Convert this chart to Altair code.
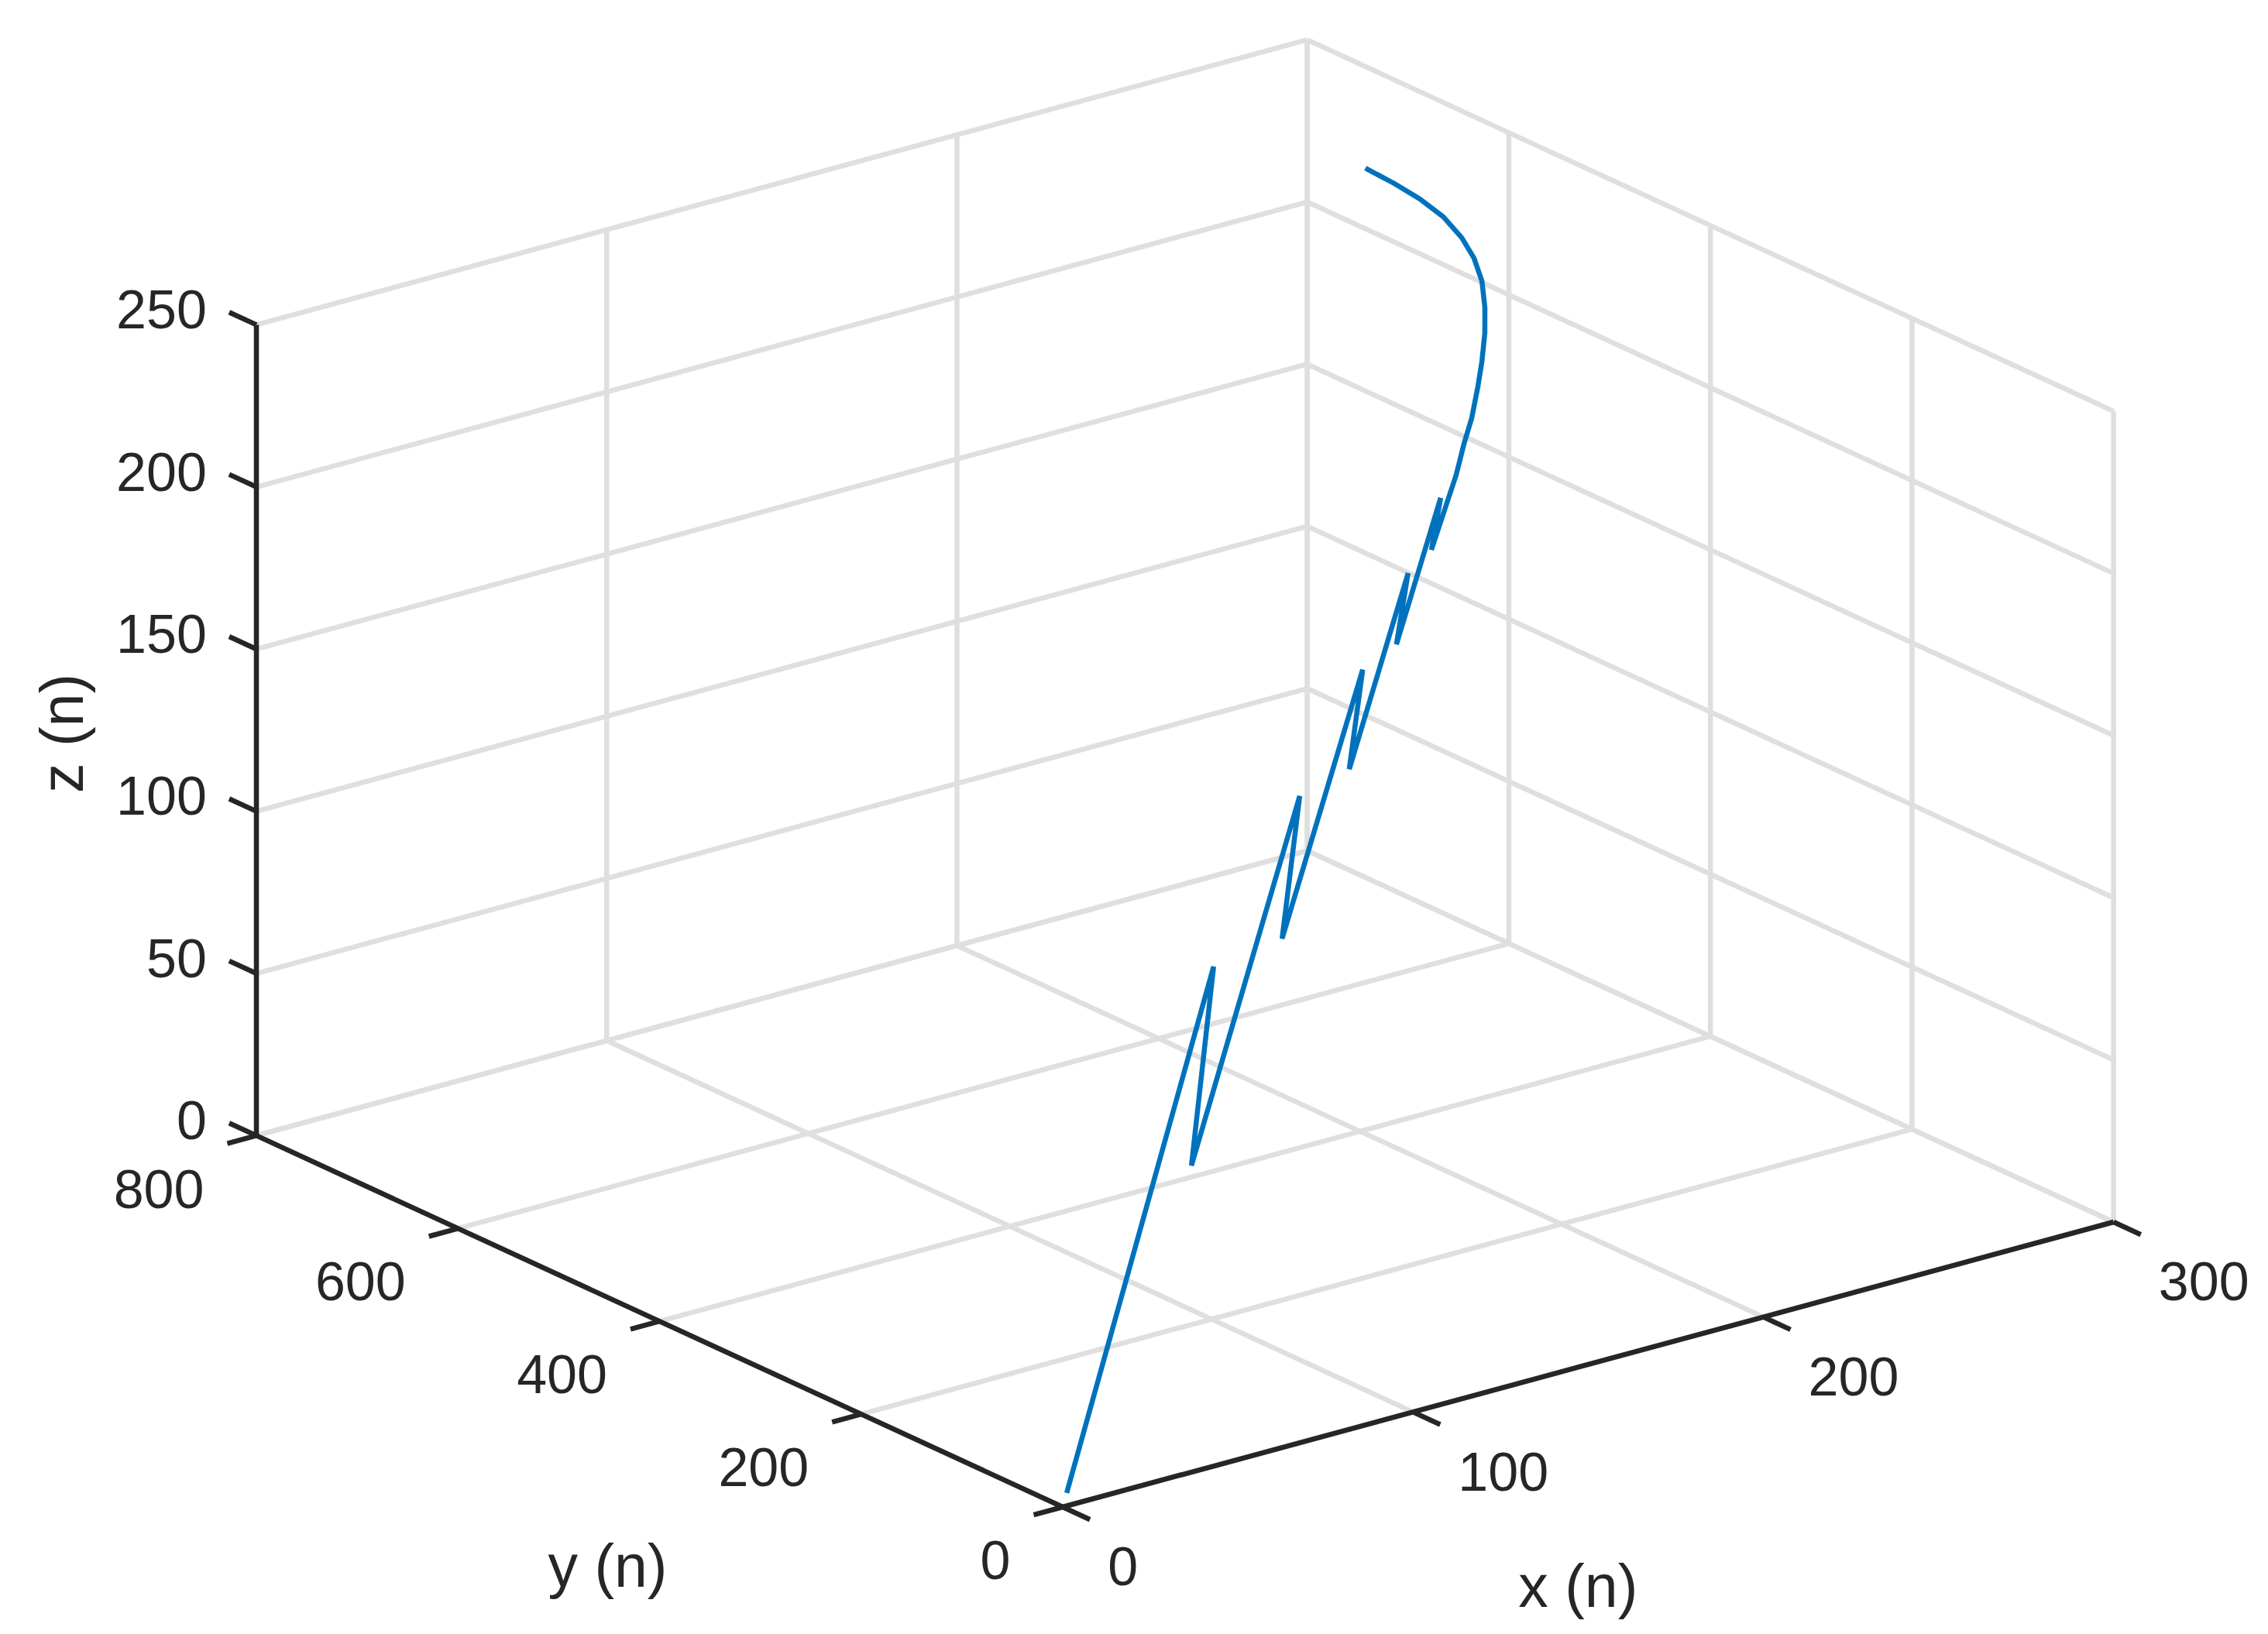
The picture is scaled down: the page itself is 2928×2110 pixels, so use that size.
import math
import pandas as pd
import altair as alt

# axis limits and ticks (MATLAB style 3-D box)
x_ticks = [0, 100, 200, 300]
y_ticks = [0, 200, 400, 600, 800]
z_ticks = [0, 50, 100, 150, 200, 250]

# trajectory
traj_x = [3.0, 115.5, 81.2, 161.4, 136.4, 195.2, 177.5, 220.4, 207.2, 239.3, 229.5,
          246.5, 252.9, 258.5, 264.5, 269.2, 274.1, 277.8, 280.9, 282.3, 282.2,
          280.7, 277.5, 273.5, 268.6]
traj_y = [6.5, 251.7, 154.5, 325.8, 256.4, 380.8, 332.6, 423.3, 389.0, 456.7, 431.8,
          466.3, 480.8, 492.6, 507.4, 519.7, 533.8, 546.6, 560.3, 573.1, 584.9,
          598.0, 610.1, 621.5, 633.2]
traj_z = [2.5, 96.8, 59.4, 125.3, 98.6, 146.5, 127.9, 162.8, 149.6, 175.7, 166.1,
          179.3, 184.9, 189.5, 195.2, 199.9, 205.3, 210.2, 215.5, 220.4, 225.0,
          230.0, 234.7, 239.0, 243.5]

X_MAX, Y_MAX, Z_MAX = 300, 800, 250
AZ = math.radians(37.5)   # view(-37.5, 30)
EL = math.radians(30)


def proj(x, y, z):
    xn, yn, zn = x / X_MAX, y / Y_MAX, z / Z_MAX
    u = math.cos(AZ) * xn - math.sin(AZ) * yn
    v = math.sin(EL) * (math.sin(AZ) * xn + math.cos(AZ) * yn) + math.cos(EL) * zn
    return u, v


def seg(p, q):
    u1, v1 = proj(*p)
    u2, v2 = proj(*q)
    return {"u": u1, "v": v1, "u2": u2, "v2": v2}


# grid on the three back planes
grid = []
for x in x_ticks:
    grid.append(seg((x, 0, 0), (x, Y_MAX, 0)))
    grid.append(seg((x, Y_MAX, 0), (x, Y_MAX, Z_MAX)))
for y in y_ticks:
    grid.append(seg((0, y, 0), (X_MAX, y, 0)))
    grid.append(seg((X_MAX, y, 0), (X_MAX, y, Z_MAX)))
for z in z_ticks:
    grid.append(seg((0, Y_MAX, z), (X_MAX, Y_MAX, z)))
    grid.append(seg((X_MAX, 0, z), (X_MAX, Y_MAX, z)))
grid = pd.DataFrame(grid)

# axis lines
axes = pd.DataFrame([
    seg((0, 0, 0), (X_MAX, 0, 0)),
    seg((0, 0, 0), (0, Y_MAX, 0)),
    seg((0, Y_MAX, 0), (0, Y_MAX, Z_MAX)),
])

TX, TY = 8.3, 27.0  # tick lengths in data units
ticks = ([seg((x, 0, 0), (x, -TY, 0)) for x in x_ticks]
         + [seg((0, y, 0), (-TX, y, 0)) for y in y_ticks]
         + [seg((0, Y_MAX, z), (0, Y_MAX + TY, z)) for z in z_ticks])
ticks = pd.DataFrame(ticks)


def labels(points, texts):
    rows = []
    for p, t in zip(points, texts):
        u, v = proj(*p)
        rows.append({"u": u, "v": v, "t": str(t)})
    return pd.DataFrame(rows)


xlab = labels([(x, -TY, 0) for x in x_ticks], x_ticks)
ylab = labels([(-TX, y, 0) for y in y_ticks], y_ticks)
zlab = labels([(0, Y_MAX + TY, z) for z in z_ticks], z_ticks)

curve = []
for i, (x, y, z) in enumerate(zip(traj_x, traj_y, traj_z)):
    u, v = proj(x, y, z)
    curve.append({"i": i, "u": u, "v": v})
curve = pd.DataFrame(curve)

xs = alt.Scale(domain=[-0.79766, 0.90526], nice=False, zero=False)
ys = alt.Scale(domain=[-0.12903, 1.60298], nice=False, zero=False)
X = alt.X("u:Q", scale=xs, axis=None)
Y = alt.Y("v:Q", scale=ys, axis=None)

INK = "#262626"
FONT = "Liberation Sans"
LW = 6.5

grid_layer = alt.Chart(grid).mark_rule(color="#dfdfdf", strokeWidth=LW).encode(
    x=X, y=Y, x2="u2:Q", y2="v2:Q")
axis_layer = alt.Chart(axes).mark_rule(color=INK, strokeWidth=LW).encode(
    x=X, y=Y, x2="u2:Q", y2="v2:Q")
tick_layer = alt.Chart(ticks).mark_rule(color=INK, strokeWidth=LW).encode(
    x=X, y=Y, x2="u2:Q", y2="v2:Q")

line_layer = alt.Chart(curve).mark_line(
    color="#0072BD", strokeWidth=LW, strokeJoin="miter", strokeCap="butt"
).encode(x=X, y=Y, order="i:Q")

txt = dict(font=FONT, fontSize=70, color=INK, baseline="middle")
zlab_layer = alt.Chart(zlab).mark_text(align="right", dx=-29, **txt).encode(x=X, y=Y, text="t:N")
ylab_layer = alt.Chart(ylab).mark_text(align="right", dx=-30, dy=62, **txt).encode(x=X, y=Y, text="t:N")
xlab_layer = alt.Chart(xlab).mark_text(align="left", dx=23, dy=64, **txt).encode(x=X, y=Y, text="t:N")

titles = pd.DataFrame([
    dict(zip(["u", "v"], proj(150, 0, 0)), t="x (n)"),
    dict(zip(["u", "v"], proj(0, 400, 0)), t="y (n)"),
    dict(zip(["u", "v"], proj(0, Y_MAX, 125)), t="z (n)"),
])
ttl = dict(font=FONT, fontSize=77, color=INK, align="center", baseline="middle")
xt_layer = alt.Chart(titles.iloc[[0]]).mark_text(dx=-13, dy=290, **ttl).encode(x=X, y=Y, text="t:N")
yt_layer = alt.Chart(titles.iloc[[1]]).mark_text(dx=-67, dy=320, **ttl).encode(x=X, y=Y, text="t:N")
# rotated text: dx runs upward, dy runs to the right
zt_layer = alt.Chart(titles.iloc[[2]]).mark_text(angle=270, dx=-4, dy=-247, **ttl).encode(x=X, y=Y, text="t:N")

chart = alt.layer(
    grid_layer, axis_layer, tick_layer, line_layer,
    zlab_layer, ylab_layer, xlab_layer, xt_layer, yt_layer, zt_layer
).properties(
    width=2912, height=2094, padding=0, background="white"
).configure_view(stroke=None)

chart.save("out.html", embed_options={"renderer": "svg", "actions": False})
